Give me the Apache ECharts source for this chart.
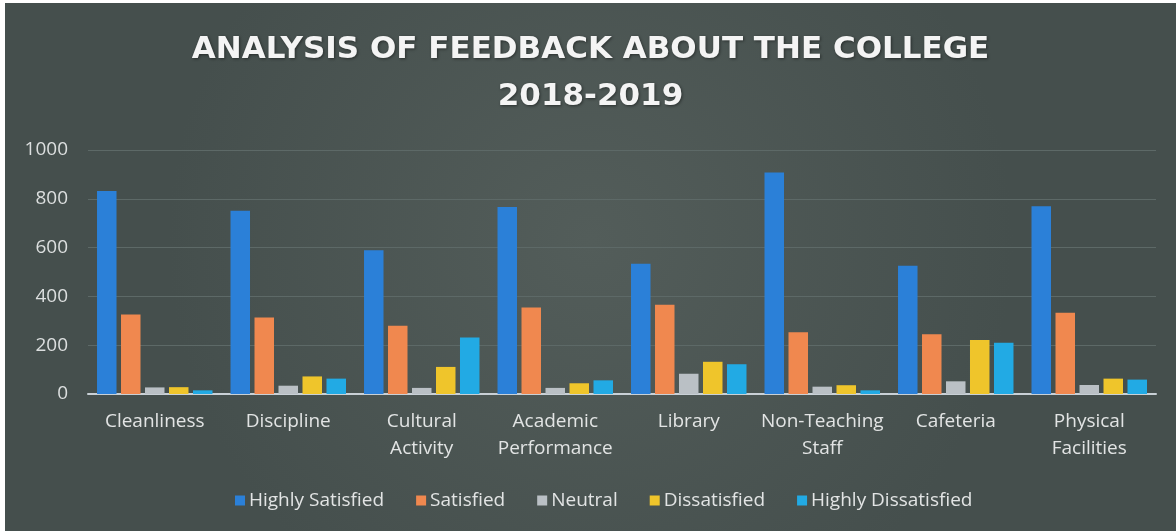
<!DOCTYPE html>
<html>
<head>
<meta charset="utf-8">
<script src="https://cdn.jsdelivr.net/npm/echarts@6/dist/echarts.min.js"></script>
<style>
  html, body { margin: 0; padding: 0; background: #ffffff; }
  #chart { position: absolute; left: 5px; top: 3px; width: 1171px; height: 528px; }
</style>
</head>
<body>
<div id="chart"></div>
<script>
const categories = ['Cleanliness', 'Discipline', 'Cultural\nActivity', 'Academic\nPerformance', 'Library', 'Non-Teaching\nStaff', 'Cafeteria', 'Physical\nFacilities'];
const seriesNames = ['Highly Satisfied', 'Satisfied', 'Neutral', 'Dissatisfied', 'Highly Dissatisfied'];
const highlySatisfied = [832, 751, 589, 766, 534, 908, 526, 769];
const satisfied = [326, 314, 280, 354, 366, 253, 245, 333];
const neutral = [27, 34, 25, 25, 83, 30, 52, 37];
const dissatisfied = [28, 72, 111, 44, 132, 36, 221, 63];
const highlyDissatisfied = [15, 63, 232, 56, 122, 15, 210, 59];
const yTicks = [0, 200, 400, 600, 800, 1000];

const colors = ['#2b80d8', '#f0884f', '#bac0c5', '#efc52b', '#22aae4'];
const values = [highlySatisfied, satisfied, neutral, dissatisfied, highlyDissatisfied];

const chart = echarts.init(document.getElementById('chart'));
chart.setOption({
  backgroundColor: {
    type: 'radial', x: 0.5, y: 0.45, r: 0.8,
    colorStops: [{ offset: 0, color: '#535d5a' }, { offset: 1, color: '#454f4d' }]
  },
  animation: false,
  color: colors,
  title: {
    text: 'ANALYSIS OF FEEDBACK ABOUT THE COLLEGE\n2018-2019',
    left: 'center',
    top: 23,
    padding: 0,
    textStyle: {
      fontFamily: 'DejaVu Sans',
      fontWeight: 'bold',
      fontSize: 31,
      lineHeight: 47,
      color: '#f4f4f4',
      textShadowColor: 'rgba(0,0,0,0.45)',
      textShadowBlur: 3,
      textShadowOffsetX: 1,
      textShadowOffsetY: 1
    }
  },
  legend: {
    data: seriesNames,
    left: 225,
    top: 483,
    itemWidth: 10,
    itemHeight: 10,
    itemGap: 32,
    icon: 'rect',
    textStyle: { fontFamily: 'Open Sans', fontSize: 19, color: '#e2e4e4', padding: [0, 0, 0, -1] }
  },
  grid: { left: 83, right: 20, top: 147, bottom: 137, containLabel: false },
  xAxis: {
    type: 'category',
    data: categories,
    axisLine: { lineStyle: { color: '#c9d0d6', width: 2 } },
    axisTick: { show: false },
    axisLabel: {
      interval: 0, margin: 14,
      fontFamily: 'Open Sans', fontSize: 19, lineHeight: 27, color: '#e2e4e4'
    }
  },
  yAxis: {
    type: 'value',
    min: yTicks[0], max: yTicks[yTicks.length - 1], interval: 200,
    axisLine: { show: false },
    axisTick: { show: false },
    splitLine: { lineStyle: { color: '#5d6967', width: 1 } },
    axisLabel: { margin: 20, fontFamily: 'Open Sans', fontSize: 19, color: '#dcdfdf', formatter: v => String(v) }
  },
  series: seriesNames.map((name, i) => ({
    name: name,
    type: 'bar',
    data: values[i],
    barGap: '23%',
    barCategoryGap: '13.5%',
    itemStyle: { color: colors[i] }
  }))
});
</script>
</body>
</html>
